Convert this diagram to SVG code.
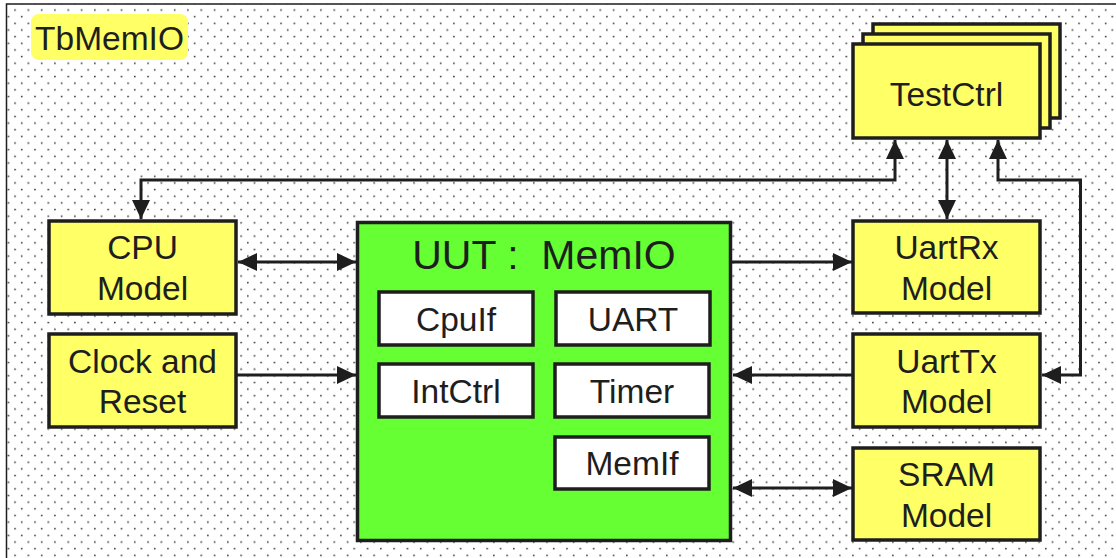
<svg xmlns="http://www.w3.org/2000/svg" width="1116" height="558" viewBox="0 0 1116 558">
  <defs>
    <pattern id="dots" patternUnits="userSpaceOnUse" x="0" y="0" width="13.3" height="13.3">
      <rect x="1.0" y="9.3" width="1.5" height="1.5" fill="#2a2a2a"/>
      <rect x="7.65" y="2.65" width="1.5" height="1.5" fill="#2a2a2a"/>
    </pattern>
    <marker id="arrow" markerUnits="userSpaceOnUse" markerWidth="20" markerHeight="18" refX="19" refY="9" orient="auto-start-reverse">
      <path d="M0,0 L19,9 L0,18 z" fill="#1e1e1e"/>
    </marker>
    <style>
      .label { font-family: "Liberation Sans", Arial, sans-serif; font-size: 33.5px; fill: #1e1e1e; text-anchor: middle; }
      .title { font-family: "Liberation Sans", Arial, sans-serif; font-size: 41px; fill: #1e1e1e; text-anchor: middle; white-space: pre; }
      .model { fill: #ffff66; stroke: #1e1e1e; stroke-width: 3.5; }
      .sub { fill: #ffffff; stroke: #1e1e1e; stroke-width: 3.5; }
      .wire { fill: none; stroke: #1e1e1e; stroke-width: 3; }
    </style>
  </defs>

  <!-- testbench frame with dotted background -->
  <rect x="0" y="0" width="1116" height="558" fill="#ffffff"/>
  <rect x="6.5" y="4" width="1115" height="560" fill="url(#dots)" stroke="#1e1e1e" stroke-width="1.5"/>

  <g id="tb-label">
    <rect x="31" y="14" width="157" height="46" rx="8" fill="#ffff66"/>
    <text class="label" x="109.5" y="50">TbMemIO</text>
  </g>

  <g id="testctrl">
    <rect class="model" x="873" y="24" width="187" height="94"/>
    <rect class="model" x="863" y="34" width="187" height="94"/>
    <rect class="model" x="853" y="44" width="187" height="94"/>
    <text class="label" x="946.5" y="106">TestCtrl</text>
  </g>

  <g id="cpu-model">
    <rect class="model" x="49" y="221" width="187" height="93"/>
    <text class="label" x="142.5" y="259">CPU</text>
    <text class="label" x="142.5" y="300">Model</text>
  </g>

  <g id="clock-reset">
    <rect class="model" x="49" y="334" width="187" height="93"/>
    <text class="label" x="142.5" y="373">Clock and</text>
    <text class="label" x="142.5" y="413">Reset</text>
  </g>

  <g id="uut">
    <rect x="357.5" y="222.5" width="373" height="318" fill="#66ff33" stroke="#1e1e1e" stroke-width="3.5"/>
    <text class="title" x="544" y="269" xml:space="preserve">UUT :  MemIO</text>
  </g>

  <g id="cpuif">
    <rect class="sub" x="379" y="292" width="154" height="53"/>
    <text class="label" x="456" y="331">CpuIf</text>
  </g>
  <g id="uart">
    <rect class="sub" x="556" y="292" width="154" height="53"/>
    <text class="label" x="633" y="331">UART</text>
  </g>
  <g id="intctrl">
    <rect class="sub" x="379" y="364" width="154" height="53"/>
    <text class="label" x="456" y="403">IntCtrl</text>
  </g>
  <g id="timer">
    <rect class="sub" x="555" y="364" width="154" height="53"/>
    <text class="label" x="632" y="403">Timer</text>
  </g>
  <g id="memif">
    <rect class="sub" x="555" y="437" width="154" height="52"/>
    <text class="label" x="632" y="475">MemIf</text>
  </g>

  <g id="uartrx-model">
    <rect class="model" x="853" y="221" width="187" height="92"/>
    <text class="label" x="946.5" y="259">UartRx</text>
    <text class="label" x="946.5" y="300">Model</text>
  </g>

  <g id="uarttx-model">
    <rect class="model" x="853" y="334" width="187" height="93"/>
    <text class="label" x="946.5" y="373">UartTx</text>
    <text class="label" x="946.5" y="413">Model</text>
  </g>

  <g id="sram-model">
    <rect class="model" x="853" y="448" width="187" height="92"/>
    <text class="label" x="946.5" y="486">SRAM</text>
    <text class="label" x="946.5" y="527">Model</text>
  </g>

  <g id="connectors">
    <path class="wire" d="M895,140 V180 H141 V219" marker-start="url(#arrow)" marker-end="url(#arrow)"/>
    <path class="wire" d="M947,140 V219" marker-start="url(#arrow)" marker-end="url(#arrow)"/>
    <path class="wire" d="M998,140 V180 H1080.5 V375 H1042" marker-start="url(#arrow)" marker-end="url(#arrow)"/>
    <path class="wire" d="M238,262 H356" marker-start="url(#arrow)" marker-end="url(#arrow)"/>
    <path class="wire" d="M236,375 H356" marker-end="url(#arrow)"/>
    <path class="wire" d="M731,262 H852" marker-end="url(#arrow)"/>
    <path class="wire" d="M853,375 H733" marker-end="url(#arrow)"/>
    <path class="wire" d="M733,488 H852" marker-start="url(#arrow)" marker-end="url(#arrow)"/>
  </g>
</svg>
